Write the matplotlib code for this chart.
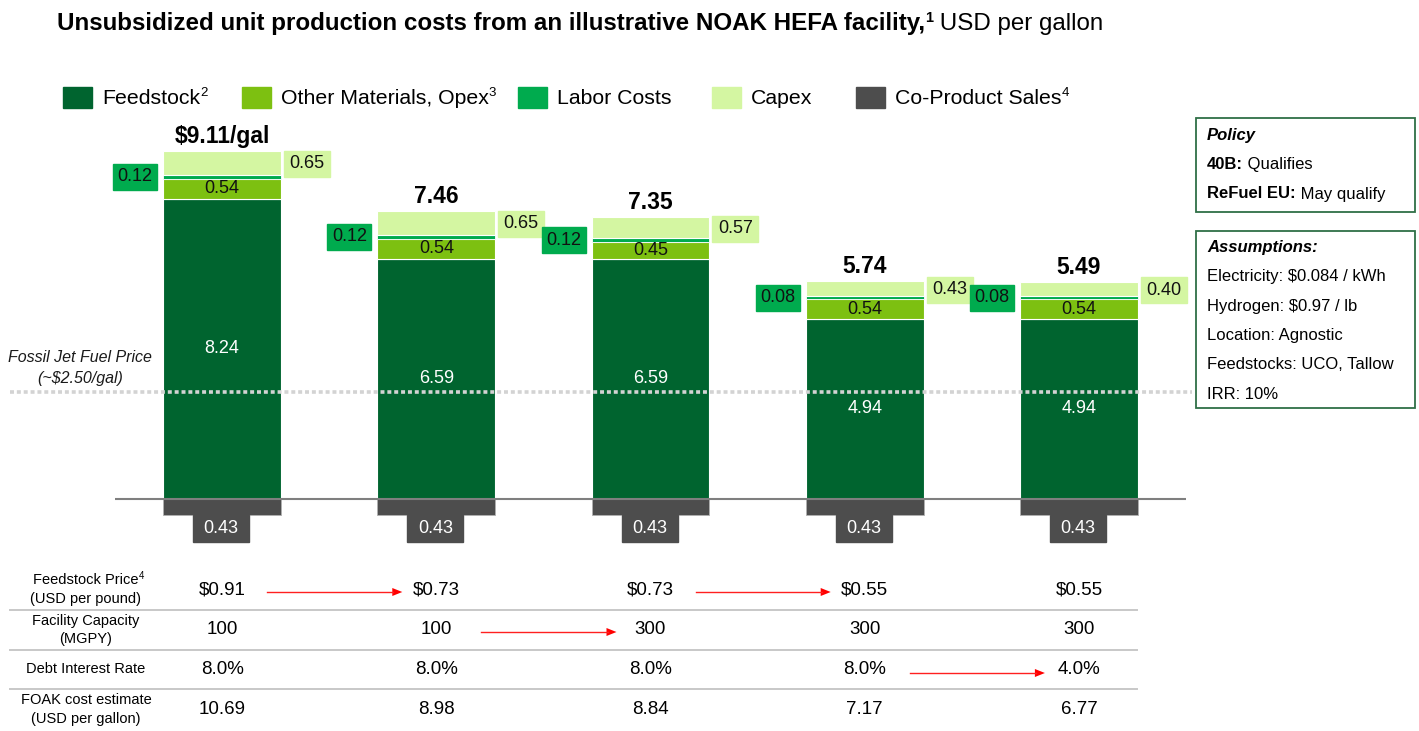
import matplotlib
matplotlib.use('Agg')
import matplotlib.pyplot as plt
from matplotlib.patches import Rectangle, Polygon
from matplotlib.transforms import blended_transform_factory
import numpy as np

plt.rcParams['font.family'] = ['Liberation Sans', 'DejaVu Sans']

# ---------------- data ----------------
scenarios = ['Scenario 1', 'Scenario 2', 'Scenario 3', 'Scenario 4', 'Scenario 5']
feedstock = [8.24, 6.59, 6.59, 4.94, 4.94]
opex = [0.54, 0.54, 0.45, 0.54, 0.54]
labor = [0.12, 0.12, 0.12, 0.08, 0.08]
capex = [0.65, 0.65, 0.57, 0.43, 0.40]
coproduct = [0.43, 0.43, 0.43, 0.43, 0.43]
total_labels = ['$9.11/gal', '7.46', '7.35', '5.74', '5.49']
fossil_price = 2.50

legend_names = ['Feedstock', 'Other Materials, Opex', 'Labor Costs', 'Capex', 'Co-Product Sales']
legend_sups = ['2', '3', '', '', '4']

row_labels = [('Feedstock Price', '4', '(USD per pound)'),
              ('Facility Capacity', '', '(MGPY)'),
              ('Debt Interest Rate', '', ''),
              ('FOAK cost estimate', '', '(USD per gallon)')]
feedstock_price = ['$0.91', '$0.73', '$0.73', '$0.55', '$0.55']
facility_capacity = ['100', '100', '300', '300', '300']
interest_rate = ['8.0%', '8.0%', '8.0%', '8.0%', '4.0%']
foak_cost = ['10.69', '8.98', '8.84', '7.17', '6.77']
table_values = [feedstock_price, facility_capacity, interest_rate, foak_cost]
# (row, from column, to column)
change_arrows = [(0, 0, 1), (0, 2, 3), (1, 1, 2), (2, 3, 4)]

policy_lines = [('40B:', ' Qualifies'), ('ReFuel EU:', ' May qualify')]
assumption_lines = ['Electricity: $0.084 / kWh', 'Hydrogen: $0.97 / lb',
                    'Location: Agnostic', 'Feedstocks: UCO, Tallow', 'IRR: 10%']

# ---------------- style ----------------
C_FEED = '#00642F'
C_OPEX = '#7DC011'
C_LABOR = '#00AB4E'
C_CAPEX = '#D4F6A2'
C_CO = '#4D4D4D'
C_BOX = '#2F6F47'

W, H = 1419, 731
fig = plt.figure(figsize=(W / 100, H / 100), dpi=100)

# bar axes placement (pixels)
ax_l, ax_r, ax_t, ax_b = 115, 1186, 120, 560
base_px = 499
scale = 36.45  # px per USD
ax = fig.add_axes([ax_l / W, (H - ax_b) / H, (ax_r - ax_l) / W, (ax_b - ax_t) / H])
ax.set_xlim(-0.5, len(scenarios) - 0.5)
ax.set_ylim(-(ax_b - base_px) / scale, (base_px - ax_t) / scale)
ax.axis('off')

ov = fig.add_axes([0, 0, 1, 1], zorder=5)
ov.set_xlim(0, W)
ov.set_ylim(H, 0)
ov.axis('off')
ov.patch.set_alpha(0)


def d2p(x, y):
    dx, dy = ax.transData.transform((x, y))
    return dx, H - dy


x = np.arange(len(scenarios))
bw = 0.55
f = np.array(feedstock)
o = np.array(opex)
l = np.array(labor)
c = np.array(capex)
ax.bar(x, f, bw, color=C_FEED, edgecolor='white', linewidth=0.8, zorder=2)
ax.bar(x, o, bw, bottom=f, color=C_OPEX, edgecolor='white', linewidth=0.8, zorder=2)
ax.bar(x, l, bw, bottom=f + o, color=C_LABOR, edgecolor='white', linewidth=0.6, zorder=2)
ax.bar(x, c, bw, bottom=f + o + l, color=C_CAPEX, edgecolor='white', linewidth=0.8, zorder=2)
ax.bar(x, -np.array(coproduct), bw, color=C_CO, edgecolor='#b0b0b0', linewidth=0.6, zorder=2)
ax.axhline(0, color='#7f7f7f', linewidth=1.5, zorder=3)

# fossil jet fuel line
trans = blended_transform_factory(fig.transFigure, ax.transData)
yv = fossil_price + coproduct[0]
ax.plot([10 / W, 1192 / W], [yv, yv], transform=trans, clip_on=False,
        color='#d3d3d3', linewidth=2.6, dashes=(1.1, 0.8), dash_capstyle='butt', zorder=4)
ov.text(80, 357, 'Fossil Jet Fuel Price', ha='center', va='center', fontsize=11.5, style='italic', color='#1a1a1a')
ov.text(80, 378, '(~$2.50/gal)', ha='center', va='center', fontsize=11.5, style='italic', color='#1a1a1a')

LBL = 13
for i in x:
    # feedstock label
    px, py = d2p(i, f[i] / 2)
    ov.text(px, py, f'{f[i]:.2f}', ha='center', va='center', fontsize=LBL, color='white')
    # opex label
    px, py = d2p(i, f[i] + o[i] / 2)
    ov.text(px, py, f'{o[i]:.2f}', ha='center', va='center', fontsize=LBL, color='#111111')
    # labor box (left)
    px, py = d2p(i - bw / 2, f[i] + o[i] + l[i] / 2)
    bx1 = px - 6
    ov.add_patch(Rectangle((bx1 - 44, py - 13), 44, 26, color=C_LABOR, zorder=3))
    ov.text(bx1 - 22, py, f'{l[i]:.2f}', ha='center', va='center', fontsize=LBL, color='#111111', zorder=4)
    # capex box (right)
    px, py = d2p(i + bw / 2, f[i] + o[i] + l[i] + c[i] / 2)
    bx0 = px + 3
    ov.add_patch(Rectangle((bx0, py - 12), 46, 26, color=C_CAPEX, zorder=3))
    ov.text(bx0 + 23, py + 1, f'{c[i]:.2f}', ha='center', va='center', fontsize=LBL, color='#111111', zorder=4)
    # total
    px, py = d2p(i, f[i] + o[i] + l[i] + c[i])
    ov.text(px, py - 8, total_labels[i], ha='center', va='baseline', fontsize=16.5,
            fontweight='bold', color='#000000')
    # co-product box
    px, py = d2p(i, -coproduct[i])
    ov.add_patch(Rectangle((px - 29, py), 56, 27, color=C_CO, zorder=3))
    ov.text(px - 1, py + 13.5, f'{coproduct[i]:.2f}', ha='center', va='center', fontsize=LBL, color='white', zorder=4)

fig.canvas.draw()
renderer = fig.canvas.get_renderer()


def run_text(x0, y, parts):
    """parts: list of (text, size, weight, style, dy)"""
    cx = x0
    for txt, size, weight, style, dy in parts:
        t = ov.text(cx, y + dy, txt, ha='left', va='baseline', fontsize=size,
                    fontweight=weight, style=style, color='#000000')
        bb = t.get_window_extent(renderer=renderer)
        cx += bb.width
    return cx


# title
run_text(57, 30, [
    ('Unsubsidized unit production costs from an illustrative NOAK HEFA facility,', 17.4, 'bold', 'normal', 0),
    ('1', 10.5, 'bold', 'normal', -8),
    (' USD per gallon', 17.4, 'normal', 'normal', 0),
])

# legend
leg_colors = [C_FEED, C_OPEX, C_LABOR, C_CAPEX, C_CO]
leg_x = [63, 242, 518, 712, 856]
for lx, col, name, sup in zip(leg_x, leg_colors, legend_names, legend_sups):
    ov.add_patch(Rectangle((lx, 86.5), 29, 21, color=col))
    parts = [(name, 15.3, 'normal', 'normal', 0)]
    if sup:
        parts.append((sup, 9.5, 'normal', 'normal', -8))
    run_text(lx + 39, 104.5, parts)

# right boxes
ov.add_patch(Rectangle((1196, 118), 219, 94, fill=False, edgecolor=C_BOX, linewidth=1.3))
ov.add_patch(Rectangle((1196, 231), 219, 177, fill=False, edgecolor=C_BOX, linewidth=1.3))
ov.text(1207, 140, 'Policy', fontsize=12, fontweight='bold', style='italic', va='baseline', ha='left')
for k, (b, r) in enumerate(policy_lines):
    run_text(1207, 169 + k * 29.5, [(b, 12, 'bold', 'normal', 0), (r, 12, 'normal', 'normal', 0)])
ov.text(1207, 252, 'Assumptions:', fontsize=12, fontweight='bold', style='italic', va='baseline', ha='left')
for k, line in enumerate(assumption_lines):
    ov.text(1207, 281.5 + k * 29.3, line, fontsize=12, va='baseline', ha='left')

# table
row_y = [590, 630, 669, 709]
sep_y = [609.5, 650, 689]
col_x = [d2p(i, 0)[0] for i in x]
for sy in sep_y:
    ov.plot([10, 1137], [sy, sy], color='#c8c8c8', linewidth=1.4)
for r, (l1, sup, l2) in enumerate(row_labels):
    ry = row_y[r]
    if l2:
        t = ov.text(86, ry - 9.5, l1, ha='center', va='center', fontsize=10.5)
        if sup:
            bb = t.get_window_extent(renderer=renderer)
            ov.text(bb.x1 + 0.5, ry - 14, sup, ha='left', va='center', fontsize=7)
        ov.text(86, ry + 9.5, l2, ha='center', va='center', fontsize=10.5)
    else:
        ov.text(86, ry, l1, ha='center', va='center', fontsize=10.5)
    for i, val in enumerate(table_values[r]):
        ov.text(col_x[i], ry, val, ha='center', va='center', fontsize=13.5)

for r, a, b in change_arrows:
    x0 = col_x[a] + 45
    x1 = col_x[b] - 34
    y = row_y[r] + 2 + (2 if r == 2 else 0)
    ov.plot([x0, x1 - 9], [y, y], color='#ff2020', linewidth=1.0)
    ov.add_patch(Polygon([(x1 - 10, y - 4), (x1, y), (x1 - 10, y + 4)], closed=True,
                         color='#ff0000', linewidth=0))

fig.savefig('out.png', dpi=100)
